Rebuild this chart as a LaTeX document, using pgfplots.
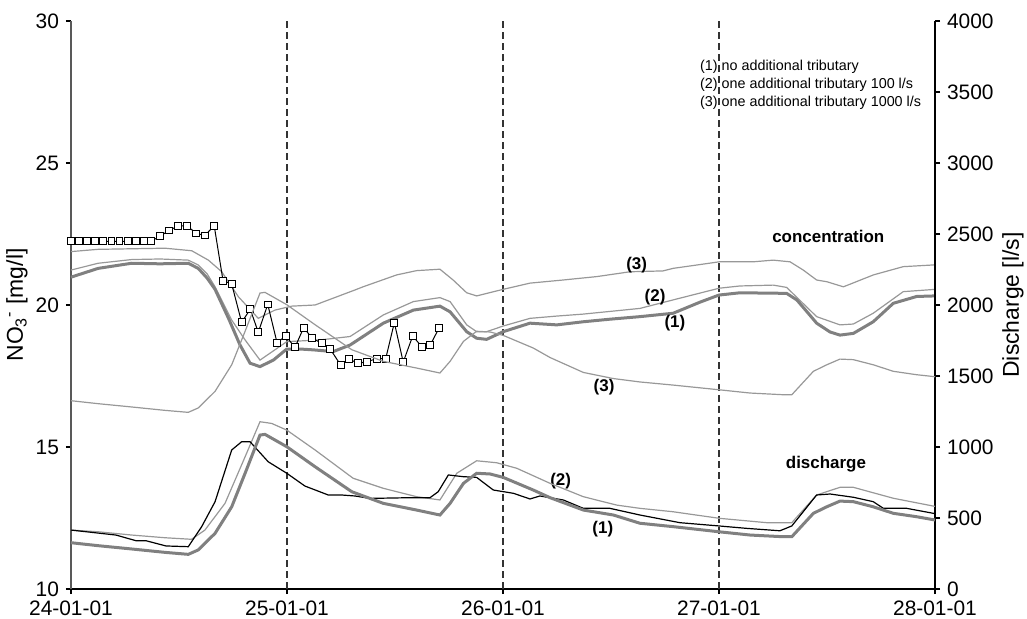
\documentclass[border=0pt]{standalone}
\usepackage{fontspec}
\setmainfont{Liberation Sans}
\usepackage{pgfplots}
\pgfplotsset{compat=1.18}
\definecolor{thickgray}{RGB}{128,128,128}
\definecolor{thingray}{RGB}{152,152,152}

\begin{document}
\begin{tikzpicture}
\begin{axis}[
  scale only axis, width=432bp, height=284bp,
  xmin=0, xmax=4, ymin=10, ymax=30,
  axis x line*=bottom, axis y line*=left,
  xtick={0,1,2,3,4},
  xticklabels={24-01-01,25-01-01,26-01-01,27-01-01,28-01-01},
  ytick={10,15,20,25,30},
  tick align=outside, major tick length=2.5bp,
  tick style={line width=0.6bp, black},
  x axis line style={line width=0.6bp, black},
  y axis line style={line width=0.6bp, black!65},
  ticklabel style={font=\fontsize{10.5}{12}\selectfont},
  /pgf/number format/assume math mode=true,
  every axis y label/.style={at={(axis description cs:-0.0625,0.5)}, rotate=90, anchor=center, font=\fontsize{11.5}{13}\selectfont},
  ylabel={NO\textsubscript{3}\textsuperscript{-} [mg/l]},
  clip=false,
]
% dashed day separators
\addplot[black!80, line width=0.6bp, dash pattern=on 3.5bp off 2bp] coordinates {(1,10) (1,30)};
\addplot[black!80, line width=0.6bp, dash pattern=on 3.5bp off 2bp] coordinates {(2,10) (2,30)};
\addplot[black!80, line width=0.6bp, dash pattern=on 3.5bp off 2bp] coordinates {(3,10) (3,30)};

% concentration scenario (3)
\addplot[thingray, line width=0.6bp] table {
x y
0 21.88
0.126 21.96
0.435 22.0
0.559 21.91
0.636 21.58
0.698 21.17
0.775 20.29
0.867 19.53
0.944 19.82
1.022 19.96
1.130 20.0
1.315 20.53
1.352 20.64
1.508 21.06
1.600 21.21
1.708 21.26
1.769 20.88
1.832 20.43
1.878 20.32
2.000 20.55
2.125 20.77
2.278 20.88
2.434 21.0
2.588 21.17
2.741 21.2
2.788 21.29
3.0 21.52
3.157 21.52
3.251 21.58
3.329 21.52
3.390 21.23
3.452 20.88
3.499 20.82
3.576 20.64
3.715 21.06
3.853 21.35
3.992 21.41
4.0 21.42
};
% concentration scenario (2)
\addplot[thingray, line width=0.6bp] table {
x y
0 21.23
0.126 21.47
0.281 21.60
0.412 21.62
0.543 21.58
0.589 21.41
0.630 21.1
0.667 20.64
0.744 19.47
0.806 18.77
0.875 18.06
0.999 18.71
1.153 18.77
1.292 18.89
1.446 19.65
1.585 20.12
1.708 20.26
1.755 20.12
1.832 19.30
1.878 19.06
1.924 19.06
2.001 19.26
2.125 19.53
2.249 19.61
2.372 19.68
2.634 19.88
2.788 20.18
3.0 20.59
3.097 20.67
3.251 20.70
3.313 20.62
3.452 19.59
3.560 19.30
3.622 19.33
3.714 19.71
3.853 20.47
4.0 20.55
};
% concentration scenario (1)
\addplot[thickgray, line width=1.5bp] table {
x y
0 20.98
0.126 21.29
0.281 21.47
0.412 21.45
0.543 21.47
0.589 21.29
0.630 20.95
0.667 20.55
0.731 19.5
0.782 18.6
0.829 17.95
0.875 17.83
0.937 18.06
0.999 18.45
1.060 18.45
1.122 18.42
1.214 18.36
1.292 18.59
1.446 19.36
1.585 19.82
1.708 19.96
1.755 19.76
1.832 19.06
1.878 18.83
1.924 18.79
2.001 19.06
2.125 19.36
2.249 19.30
2.372 19.41
2.495 19.5
2.634 19.59
2.788 19.71
2.912 20.1
3.0 20.35
3.097 20.43
3.313 20.41
3.360 20.18
3.403 19.8
3.452 19.36
3.514 19.05
3.560 18.94
3.622 19.0
3.714 19.41
3.807 20.06
3.915 20.30
4.0 20.32
};
% observed concentration
\addplot[black, line width=0.5bp, mark=square*, mark size=1.7bp, mark options={fill=white, draw=black, line width=0.5bp}] table {
x y
0 22.24
0.0375 22.24
0.075 22.24
0.1125 22.24
0.15 22.24
0.1875 22.24
0.225 22.24
0.2625 22.24
0.3 22.24
0.3375 22.24
0.3704 22.24
0.4134 22.43
0.4537 22.62
0.4968 22.79
0.537 22.79
0.580 22.52
0.620 22.45
0.663 22.79
0.704 20.85
0.744 20.74
0.790 19.39
0.830 19.85
0.867 19.04
0.911 20.02
0.954 18.67
0.994 18.91
1.037 18.51
1.077 19.2
1.117 18.83
1.161 18.65
1.200 18.45
1.249 17.88
1.288 18.09
1.330 17.95
1.369 18.0
1.415 18.11
1.457 18.11
1.497 19.38
1.538 17.99
1.582 18.91
1.624 18.53
1.663 18.59
1.704 19.19
};

% labels
\begin{scope}[every node/.style={font=\bfseries\fontsize{8.5}{10}\selectfont}]
\node at (axis cs:2.619,21.41) {(3)};
\node at (axis cs:2.704,20.26) {(2)};
\node at (axis cs:2.796,19.36) {(1)};
\node at (axis cs:2.468,17.10) {(3)};
\node at (axis cs:2.267,13.80) {(2)};
\node at (axis cs:2.462,12.10) {(1)};
\node at (axis cs:3.506,22.43) {concentration};
\node at (axis cs:3.495,14.40) {discharge};
\end{scope}
\begin{scope}[every node/.style={font=\fontsize{7.2}{8.5}\selectfont, anchor=west, inner sep=0pt}]
\node at (axis cs:2.911,28.39) {(1) no additional tributary};
\node at (axis cs:2.911,27.74) {(2) one additional tributary 100 l/s};
\node at (axis cs:2.911,27.12) {(3) one additional tributary 1000 l/s};
\end{scope}
\end{axis}

\begin{axis}[
  scale only axis, width=432bp, height=284bp,
  xmin=0, xmax=4, ymin=0, ymax=4000,
  axis x line=none, axis y line*=right,
  ytick={0,500,1000,1500,2000,2500,3000,3500,4000},
  tick align=outside, major tick length=2.5bp,
  tick style={line width=0.6bp, black},
  y axis line style={line width=0.6bp, black},
  ticklabel style={font=\fontsize{10.5}{12}\selectfont},
  /pgf/number format/assume math mode=true,
  /pgf/number format/1000 sep={},
  every axis y label/.style={at={(axis description cs:1.0903,0.5)}, rotate=90, anchor=center, font=\fontsize{11.5}{13}\selectfont},
  ylabel={Discharge [l/s]},
  clip=false,
]
% discharge scenario (3)
\addplot[thingray, line width=0.6bp] table {
x y
0 1326
0.126 1305
0.280 1282
0.435 1258
0.543 1244
0.589 1275
0.667 1392
0.744 1579
0.806 1815
0.875 2084
0.898 2089
0.999 2002
1.130 1861
1.30 1685
1.446 1603
1.600 1556
1.708 1521
1.755 1603
1.817 1744
1.878 1815
1.940 1810
2.001 1786
2.140 1697
2.218 1630
2.372 1525
2.511 1482
2.634 1458
2.788 1436
3.0 1403
3.144 1380
3.298 1368
3.337 1368
3.437 1533
3.499 1579
3.560 1619
3.622 1615
3.714 1579
3.807 1533
3.915 1509
4.0 1495
};
% discharge scenario (2)
\addplot[thingray, line width=0.6bp] table {
x y
0 415
0.126 403
0.281 380
0.435 361
0.558 350
0.620 415
0.713 603
0.806 931
0.875 1178
0.929 1166
0.999 1119
1.130 979
1.306 780
1.446 709
1.600 650
1.708 627
1.786 815
1.878 903
1.971 889
2.064 850
2.218 744
2.372 650
2.526 591
2.634 568
2.788 544
3.0 498
3.221 467
3.337 467
3.452 662
3.560 716
3.622 716
3.807 639
3.992 584
4.0 582
};
% observed discharge
\addplot[black, line width=0.6bp] table {
x y
0 415
0.208 380
0.301 340
0.347 340
0.440 303
0.543 298
0.605 439
0.667 615
0.744 979
0.790 1037
0.829 1037
0.913 896
0.999 815
1.083 725
1.191 662
1.253 662
1.315 655
1.384 638
1.569 643
1.662 643
1.700 685
1.747 803
1.816 791
1.878 786
1.955 697
2.048 674
2.125 634
2.171 655
2.279 627
2.372 568
2.495 568
2.634 521
2.819 467
3.0 444
3.128 427
3.282 410
3.337 444
3.452 662
3.514 669
3.622 646
3.714 615
3.761 568
3.869 568
3.992 533
4.0 530
};
% discharge scenario (1)
\addplot[thickgray, line width=1.5bp] table {
x y
0 326
0.126 305
0.280 282
0.435 258
0.543 244
0.589 275
0.667 392
0.744 579
0.806 815
0.875 1084
0.898 1089
0.999 1002
1.130 861
1.30 685
1.446 603
1.600 556
1.708 521
1.755 603
1.817 744
1.878 815
1.940 810
2.001 786
2.140 697
2.218 643
2.372 556
2.511 521
2.634 463
2.788 439
3.0 403
3.144 380
3.298 368
3.337 368
3.437 533
3.499 579
3.560 619
3.622 615
3.714 579
3.807 533
3.915 509
4.0 486
};
\end{axis}
\pgfresetboundingbox
\path[use as bounding box] (-35.5bp,-15bp) rectangle (478bp,294.5bp);
\end{tikzpicture}
\end{document}
